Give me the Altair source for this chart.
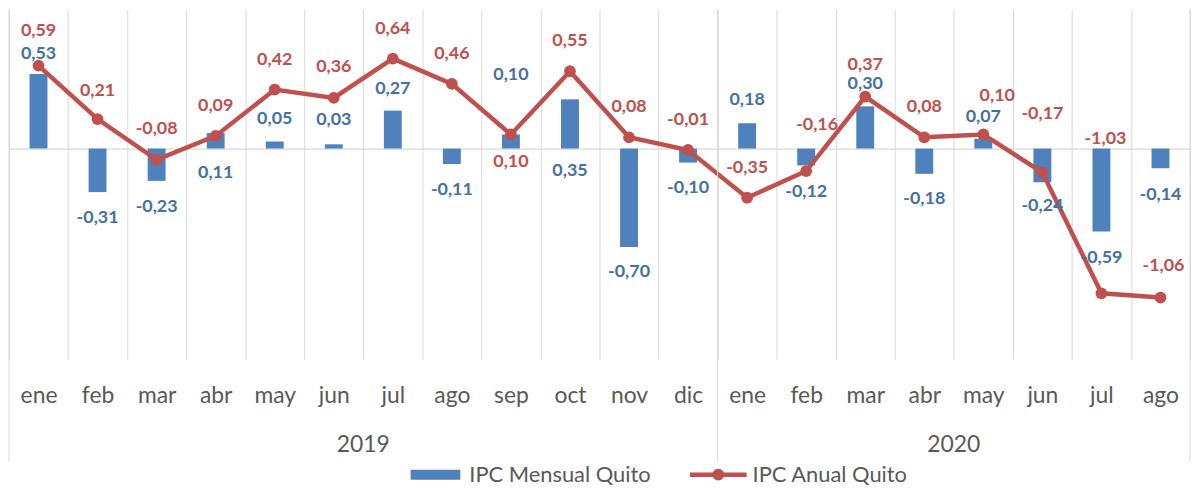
import altair as alt
import pandas as pd

# ---- data ----
months = ["ene", "feb", "mar", "abr", "may", "jun", "jul", "ago", "sep", "oct", "nov", "dic",
          "ene", "feb", "mar", "abr", "may", "jun", "jul", "ago"]
years = ["2019"] * 12 + ["2020"] * 8
mensual = [0.53, -0.31, -0.23, 0.11, 0.05, 0.03, 0.27, -0.11, 0.10, 0.35, -0.70, -0.10,
           0.18, -0.12, 0.30, -0.18, 0.07, -0.24, -0.59, -0.14]
anual = [0.59, 0.21, -0.08, 0.09, 0.42, 0.36, 0.64, 0.46, 0.10, 0.55, 0.08, -0.01,
         -0.35, -0.16, 0.37, 0.08, 0.10, -0.17, -1.03, -1.06]
year_labels = ["2019", "2020"]
year_centers = ["jul 2019", "may 2020"]
series_names = ["IPC Mensual Quito", "IPC Anual Quito"]

# label placement (pixel nudges for the data labels)
blue_dy = [-20, 26, 26, 40, -23, -24, -22, 26, -60, 72, 25, 26, -23, 27, -22, 25, -22, 24, 27, 27]
red_dy = [-35, -28, -31, -30, -30, -31, -30, -30, 28, -30, -30, -30, -30, -46, -32, -30, -39, -59, -155, -32]
red_dx = [0] * 13 + [11, 0, 0, 14, 0, 4, 3]


def fmt(v):
    return f"{v:.2f}".replace(".", ",")


keys = [f"{m} {y}" for m, y in zip(months, years)]
df = pd.DataFrame({
    "key": keys,
    "mensual": mensual,
    "anual": anual,
    "bl": [fmt(v) for v in mensual],
    "rl": [fmt(v) for v in anual],
    "bdy": blue_dy,
    "rdy": red_dy,
    "rdx": red_dx,
})

BLUE = "#4F81BD"
BLUE_TXT = "#44719F"
RED = "#C0504D"
GRID = "#d9d9d9"
GRAY = "#595959"
FONT = "Lato"

W, H = 1188, 352
xscale = alt.Scale(domain=keys, paddingInner=0, paddingOuter=0)
yscale = alt.Scale(domain=[-1.5, 0.99], nice=False, zero=False)

x_axis = alt.Axis(title=None, labelExpr="split(datum.label, ' ')[0]", grid=True,
                  tickBand="extent", gridColor=GRID, gridWidth=1, ticks=False, domain=False,
                  labelFont=FONT, labelFontSize=23, labelColor=GRAY, labelPadding=25,
                  labelAngle=0)
y_axis = alt.Axis(title=None, values=[0], grid=True, gridColor=GRID, gridWidth=1.2,
                  labels=False, ticks=False, domain=False)


def X(bp=None):
    if bp is None:
        return alt.X("key:N", scale=xscale, axis=x_axis, sort=keys)
    return alt.X("key:N", scale=xscale, axis=x_axis, sort=keys, bandPosition=bp)


def Y(field):
    return alt.Y(field, scale=yscale, axis=y_axis)


base = alt.Chart(df).encode(x=X())

bars = base.mark_bar(size=18, color=BLUE).encode(y=Y("mensual:Q"), y2=alt.datum(0))
line = base.mark_line(color=RED, strokeWidth=4.5).encode(y=Y("anual:Q"))
pts = base.mark_circle(size=140, color=RED, opacity=1).encode(y=Y("anual:Q"))
blue_text = base.mark_text(font=FONT, fontSize=18, fontWeight="bold", color=BLUE_TXT,
                           baseline="middle", align="center",
                           dy=alt.expr("datum.bdy")).encode(y=Y("mensual:Q"), text="bl:N")
red_text = base.mark_text(font=FONT, fontSize=18, fontWeight="bold", color=RED,
                          baseline="middle", align="center",
                          dy=alt.expr("datum.rdy"), dx=alt.expr("datum.rdx")).encode(
    y=Y("anual:Q"), text="rl:N")

# year labels (second level of category axis)
ydf = pd.DataFrame({"key": year_centers, "year": year_labels})
year_text = alt.Chart(ydf).mark_text(font=FONT, fontSize=23, color=GRAY, baseline="middle").encode(
    x=X(0), y=alt.value(438), text="year:N")

# long separators of the multi-level axis
sdf = pd.DataFrame({"key": ["ene 2019", "ene 2020"]})
seps = alt.Chart(sdf).mark_rule(color=GRID, strokeWidth=1).encode(
    x=X(0), y=alt.value(0), y2=alt.value(455))
edf = pd.DataFrame({"key": ["ago 2020"]})
sep_end = alt.Chart(edf).mark_rule(color=GRID, strokeWidth=1).encode(
    x=X(1), y=alt.value(0), y2=alt.value(455))

# legend
l1 = pd.DataFrame({"t": [series_names[0]]})
l2 = pd.DataFrame({"t": [series_names[1]]})
leg_rect = alt.Chart(l1).mark_rect(color=BLUE).encode(
    x=alt.value(404), x2=alt.value(454), y=alt.value(463), y2=alt.value(473))
leg_t1 = alt.Chart(l1).mark_text(font=FONT, fontSize=22, color=GRAY, align="left",
                                 baseline="middle").encode(
    x=alt.value(463), y=alt.value(468), text="t:N")
leg_line = alt.Chart(l2).mark_rule(color=RED, strokeWidth=4.5).encode(
    x=alt.value(685), x2=alt.value(742), y=alt.value(468))
leg_pt = alt.Chart(l2).mark_circle(color=RED, size=140, opacity=1).encode(
    x=alt.value(713.5), y=alt.value(468))
leg_t2 = alt.Chart(l2).mark_text(font=FONT, fontSize=22, color=GRAY, align="left",
                                 baseline="middle").encode(
    x=alt.value(748), y=alt.value(468), text="t:N")

chart = alt.layer(
    bars, line, pts, blue_text, red_text, year_text, seps, sep_end,
    leg_rect, leg_t1, leg_line, leg_pt, leg_t2
).properties(
    width=W, height=H,
    padding={"left": 1, "top": 0, "right": 1, "bottom": 130},
    autosize=alt.AutoSizeParams(type="none"),
).configure_view(stroke=None)

chart.save("out.html", embed_options={"renderer": "svg", "actions": False})
